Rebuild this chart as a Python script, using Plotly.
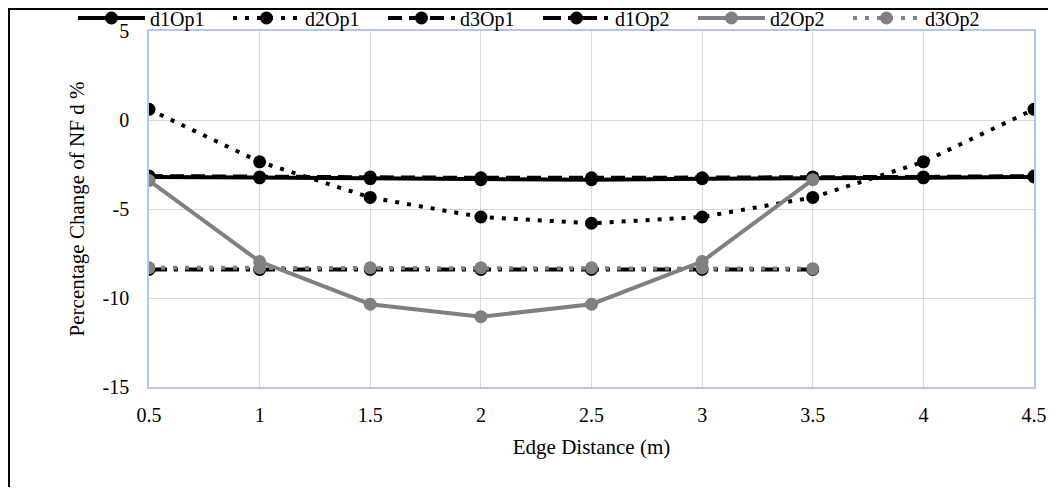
import plotly.graph_objects as go

x = [0.5, 1, 1.5, 2, 2.5, 3, 3.5, 4, 4.5]
x_short = [0.5, 1, 1.5, 2, 2.5, 3, 3.5]

d1Op1 = [-3.2, -3.25, -3.3, -3.35, -3.35, -3.3, -3.3, -3.25, -3.2]
d2Op1 = [0.6, -2.35, -4.35, -5.45, -5.8, -5.45, -4.35, -2.35, 0.6]
d3Op1 = [-3.15, -3.2, -3.2, -3.25, -3.25, -3.25, -3.2, -3.2, -3.15]
d1Op2 = [-8.4, -8.4, -8.4, -8.4, -8.4, -8.4, -8.4]
d2Op2 = [-3.4, -7.95, -10.35, -11.05, -10.35, -7.95, -3.35]
d3Op2 = [-8.3, -8.3, -8.3, -8.3, -8.3, -8.3, -8.35]

x_ticks = [0.5, 1, 1.5, 2, 2.5, 3, 3.5, 4, 4.5]
x_tick_text = ["0.5", "1", "1.5", "2", "2.5", "3", "3.5", "4", "4.5"]
y_ticks = [-15, -10, -5, 0, 5]
y_tick_text = ["-15", "-10", "-5", "0", "5"]

BLACK = "#000000"
GRAY = "#808080"

series = [
    ("d1Op1", x, d1Op1, BLACK, "solid", 4),
    ("d2Op1", x, d2Op1, BLACK, "4px,8px", 4),
    ("d3Op1", x, d3Op1, BLACK, "14px,7px", 4),
    ("d1Op2", x_short, d1Op2, BLACK, "18px,7px,4px,7px", 4),
    ("d2Op2", x_short, d2Op2, GRAY, "solid", 4),
    ("d3Op2", x_short, d3Op2, GRAY, "4px,8px", 4),
]

fig = go.Figure()
for name, xs, ys, col, dash, w in series:
    fig.add_trace(go.Scatter(
        x=xs, y=ys, name=name, mode="lines+markers",
        line=dict(color=col, width=w, dash=dash),
        marker=dict(color=col, size=13, symbol="circle"),
    ))

font_family = "Liberation Serif, DejaVu Serif, serif"
axis_line = "#b4c7e7"
grid = "#d9d9d9"

# figure sits at (8,8) in the page; plot area 141..1026 x 23..379 in figure px
fig.update_layout(
    width=1040, height=479,
    margin=dict(l=141, r=14, t=23, b=100, autoexpand=False),
    paper_bgcolor="white", plot_bgcolor="white",
    font=dict(family=font_family, size=20, color="#000000"),
    showlegend=True,
    legend=dict(
        orientation="h", x=-0.0859, y=1.0365, xanchor="left", yanchor="middle",
        bgcolor="rgba(0,0,0,0)", itemwidth=67, font=dict(size=20),
        entrywidth=73, entrywidthmode="pixels",
    ),
    xaxis=dict(
        range=[0.5, 4.5], tickvals=x_ticks, ticktext=x_tick_text,
        showgrid=True, gridcolor=grid,
        gridwidth=1, showline=True, linecolor=axis_line, linewidth=1.5,
        mirror=True, zeroline=False, ticks="", ticklabelstandoff=9,
        title=dict(text="Edge Distance (m)", font=dict(size=21), standoff=15),
        tickfont=dict(size=20),
    ),
    yaxis=dict(
        range=[-15, 5], tickvals=y_ticks, ticktext=y_tick_text,
        showgrid=True, gridcolor=grid, gridwidth=1,
        showline=True, linecolor=axis_line, linewidth=1.5, mirror=True,
        zeroline=False, ticks="", ticklabelstandoff=14,
        title=dict(text="Percentage Change of NF d %", font=dict(size=21), standoff=12),
        tickfont=dict(size=20),
    ),
    shapes=[dict(
        type="rect", xref="paper", yref="paper",
        x0=-0.1582, x1=1.0215, y0=-0.2978, y1=1.0618,
        line=dict(color="black", width=2), fillcolor="rgba(0,0,0,0)", layer="below",
    )],
)

fig.write_html("out.html")
